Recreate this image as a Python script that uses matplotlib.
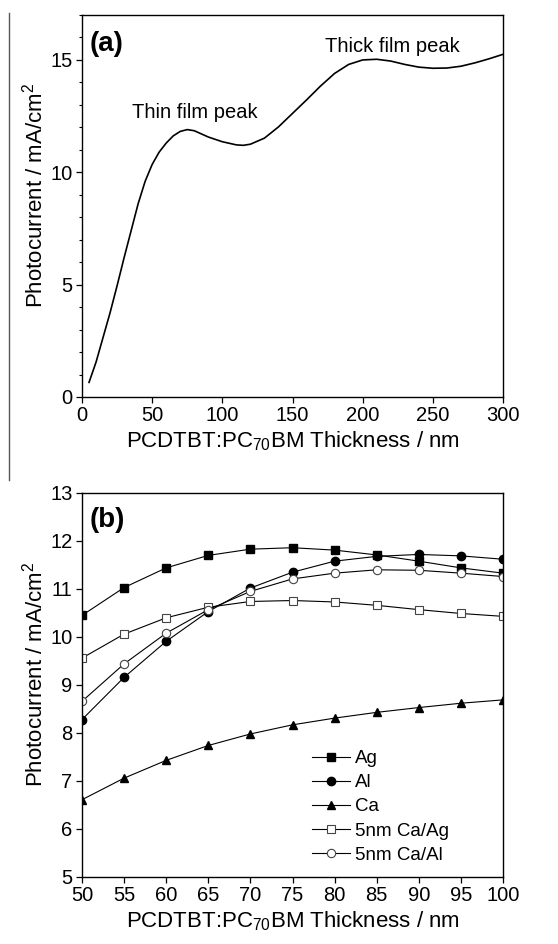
import matplotlib
matplotlib.use('Agg')
import matplotlib.pyplot as plt
from matplotlib.ticker import MultipleLocator
from matplotlib.lines import Line2D

plt.rcParams['font.family'] = ['Liberation Sans', 'DejaVu Sans']
plt.rcParams['mathtext.fontset'] = 'custom'
plt.rcParams['mathtext.rm'] = 'Liberation Sans'
plt.rcParams['mathtext.it'] = 'Liberation Sans:italic'
plt.rcParams['mathtext.bf'] = 'Liberation Sans:bold'

# panel (a): simulated photocurrent vs thickness
thick_a = [5, 10, 15, 20, 25, 30, 35, 40, 45, 50, 55, 60, 65, 70, 75, 80, 90, 100,
           110, 115, 120, 130, 140, 150, 160, 170, 180, 190, 200, 210, 220, 230, 240,
           250, 260, 270, 280, 290, 300]
curr_a = [0.65, 1.55, 2.65, 3.75, 4.95, 6.2, 7.4, 8.6, 9.6, 10.35, 10.9, 11.3, 11.62,
          11.82, 11.9, 11.85, 11.57, 11.36, 11.22, 11.2, 11.25, 11.52, 12.02, 12.62,
          13.22, 13.84, 14.4, 14.8, 15.0, 15.03, 14.95, 14.8, 14.68, 14.63, 14.64,
          14.72, 14.87, 15.05, 15.25]

# panel (b): electrodes
thick_b = [50, 55, 60, 65, 70, 75, 80, 85, 90, 95, 100]
ag = [10.45, 11.03, 11.44, 11.70, 11.83, 11.86, 11.81, 11.71, 11.58, 11.44, 11.33]
al = [8.28, 9.16, 9.91, 10.53, 11.02, 11.35, 11.58, 11.68, 11.72, 11.69, 11.62]
ca = [6.61, 7.06, 7.43, 7.74, 7.98, 8.17, 8.31, 8.43, 8.53, 8.62, 8.69]
ca_ag = [9.56, 10.06, 10.40, 10.62, 10.74, 10.76, 10.73, 10.66, 10.57, 10.49, 10.43]
ca_al = [8.66, 9.44, 10.08, 10.57, 10.95, 11.21, 11.33, 11.40, 11.39, 11.33, 11.26]
names = ['Ag', 'Al', 'Ca', '5nm Ca/Ag', '5nm Ca/Al']

ylab = 'Photocurrent / mA/cm$^2$'
xlab = 'PCDTBT:PC$_{70}$BM Thickness / nm'
tfs = 14.5
lfs = 16

fig = plt.figure(figsize=(5.58, 9.44), dpi=100)
ax1 = fig.add_axes([82/558, 1-397/944, 421/558, 382/944])
ax2 = fig.add_axes([82/558, 1-877/944, 421/558, 384/944])

ax1.plot(thick_a, curr_a, color='black', lw=1.2)
ax1.set_xlim(0, 300)
ax1.set_ylim(0, 17)
ax1.xaxis.set_major_locator(MultipleLocator(50))
ax1.yaxis.set_major_locator(MultipleLocator(5))
ax1.yaxis.set_minor_locator(MultipleLocator(1))
ax1.text(5.7, 15.7, '(a)', fontsize=20, fontweight='bold', va='center', ha='left')
ax1.text(35.6, 12.65, 'Thin film peak', fontsize=14.5, va='center', ha='left')
ax1.text(173, 15.62, 'Thick film peak', fontsize=14.5, va='center', ha='left')

ms = 5.5
ax2.plot(thick_b, ag, color='black', lw=0.8, marker='s', ms=ms, mfc='black', mec='black', label=names[0])
ax2.plot(thick_b, al, color='black', lw=0.8, marker='o', ms=ms+0.5, mfc='black', mec='black', label=names[1])
ax2.plot(thick_b, ca, color='black', lw=0.8, marker='^', ms=ms+0.5, mfc='black', mec='black', label=names[2])
ax2.plot(thick_b, ca_ag, color='black', lw=0.8, marker='s', ms=ms, mfc='white', mec='#444444', mew=0.8, label=names[3])
ax2.plot(thick_b, ca_al, color='black', lw=0.8, marker='o', ms=ms+0.5, mfc='white', mec='#444444', mew=0.8, label=names[4])
ax2.set_xlim(50, 100)
ax2.set_ylim(5, 13)
ax2.xaxis.set_major_locator(MultipleLocator(5))
ax2.yaxis.set_major_locator(MultipleLocator(1))
ax2.text(50.95, 12.44, '(b)', fontsize=20, fontweight='bold', va='center', ha='left')
ax2.legend(loc='upper left', bbox_to_anchor=(312/558, 1-750/944), bbox_transform=fig.transFigure,
           frameon=False, fontsize=13.5, handlelength=2.03, handletextpad=0.27,
           labelspacing=0.375, borderpad=0, borderaxespad=0)

for ax in (ax1, ax2):
    for s in ax.spines.values():
        s.set_linewidth(1.0)
    ax.tick_params(which='major', direction='out', length=4.3, width=0.9, labelsize=tfs, pad=2.5)
    ax.tick_params(which='minor', direction='out', length=2.5, width=0.8)
    ax.set_ylabel(ylab, fontsize=lfs)
    ax.set_xlabel(xlab, fontsize=lfs, labelpad=3)
    ax.yaxis.set_label_coords(-0.082, 0.528)

# stray border line on left of the upper panel
fig.add_artist(Line2D([9/558, 9/558], [1-13/944, 1-480/944], transform=fig.transFigure,
                      color='#555555', lw=1.0))

fig.savefig('out.png', dpi=100)
